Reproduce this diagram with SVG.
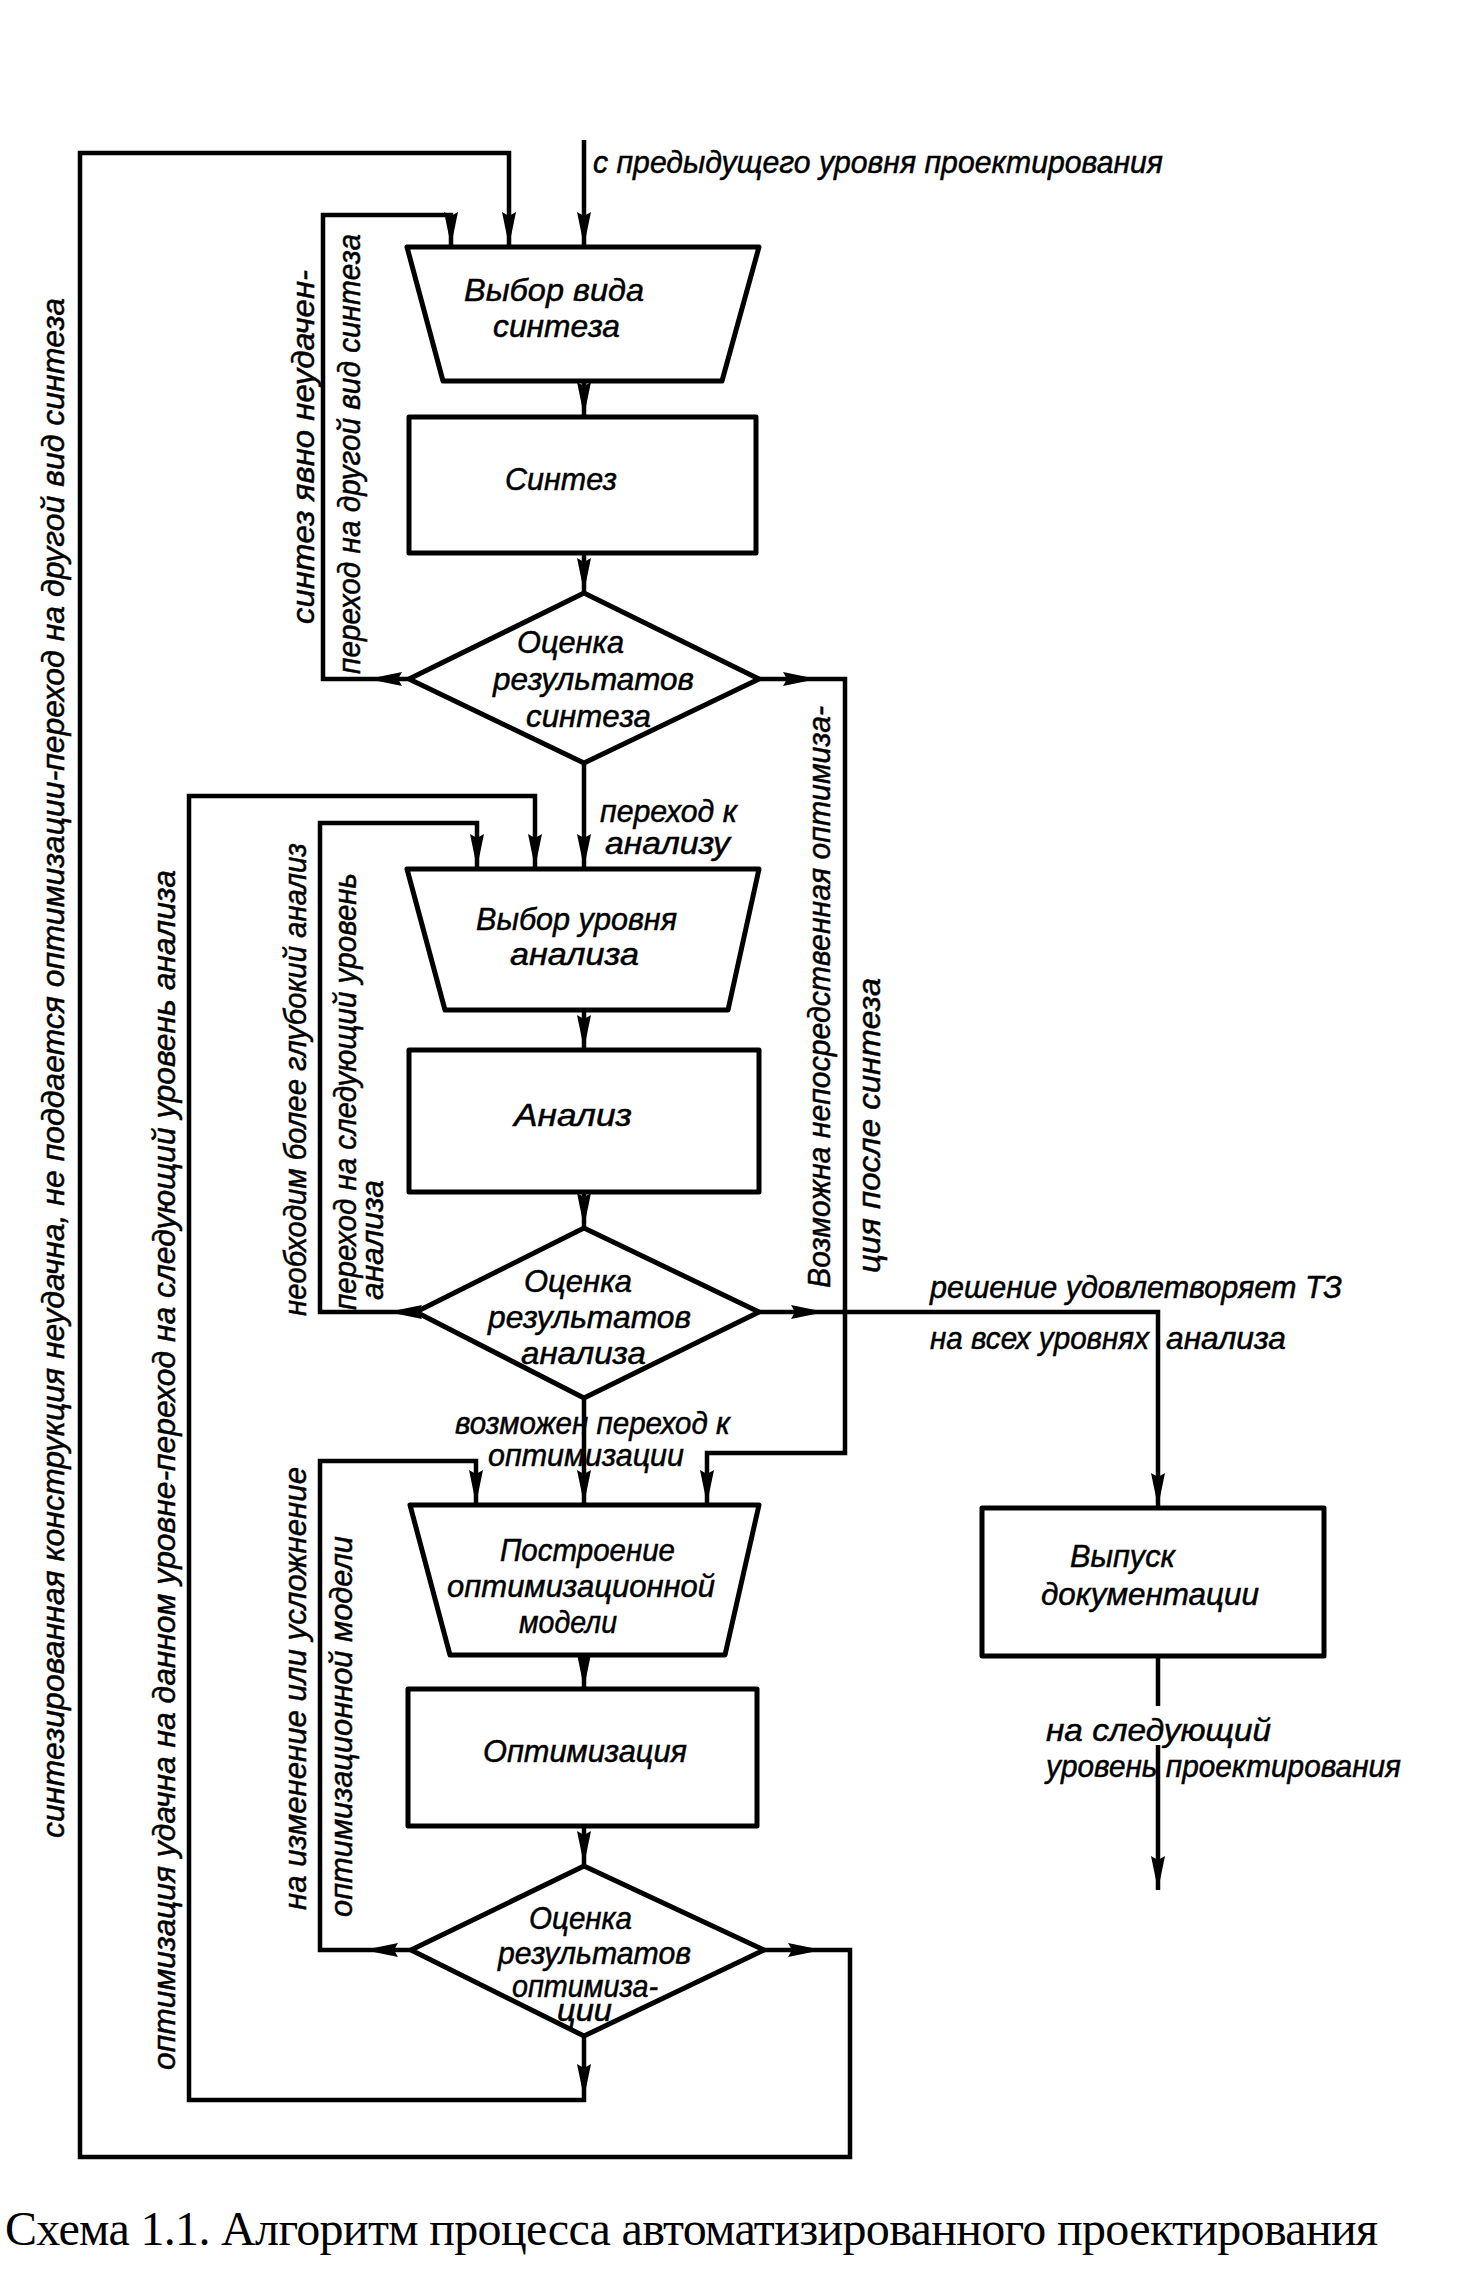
<svg xmlns="http://www.w3.org/2000/svg" xmlns:xlink="http://www.w3.org/1999/xlink" width="1468" height="2279" viewBox="0 0 1468 2279">
<style>
.sh{fill:none;stroke:#000;stroke-width:5;stroke-linejoin:round}
.cn{fill:none;stroke:#000;stroke-width:4.5;stroke-linejoin:miter}
.t{font-family:"Liberation Sans","DejaVu Sans",sans-serif;font-style:italic;font-size:32px;fill:#000;stroke:#000;stroke-width:0.5}
.cap{font-family:"Liberation Serif","DejaVu Serif",serif;font-size:48px;fill:#000}
</style>
<defs>
<path id="ah" d="M0,0 L-34,-7 L-30,0 L-34,7 z" fill="#000"/>
</defs>
<rect width="1468" height="2279" fill="#fff"/>

<g id="connectors">
<path class="cn" d="M584,140 V247"/>
<path class="cn" d="M584,381 V417"/>
<path class="cn" d="M584,553 V593"/>
<path class="cn" d="M584,763 V869"/>
<path class="cn" d="M584,1010 V1050"/>
<path class="cn" d="M584,1192 V1228"/>
<path class="cn" d="M584,1398 V1505"/>
<path class="cn" d="M584,1655 V1689"/>
<path class="cn" d="M584,1826 V1866"/>
<path class="cn" d="M764,1950 H850 V2157 H80 V153 H509 V247"/>
<path class="cn" d="M584,2036 V2100 H189 V796 H535 V869"/>
<path class="cn" d="M409,679 H323 V215 H451 V247"/>
<path class="cn" d="M416,1312 H320 V823 H477 V869"/>
<path class="cn" d="M411,1950 H320 V1461 H476 V1505"/>
<path class="cn" d="M759,679 H845 V1453 H707 V1505"/>
<path class="cn" d="M758,1312 H1158 V1508"/>
<path class="cn" d="M1158,1656 V1706 M1158,1745 V1890"/>
<use xlink:href="#ah" transform="translate(584,246) rotate(90)"/>
<use xlink:href="#ah" transform="translate(584,416) rotate(90)"/>
<use xlink:href="#ah" transform="translate(584,592) rotate(90)"/>
<use xlink:href="#ah" transform="translate(584,868) rotate(90)"/>
<use xlink:href="#ah" transform="translate(584,1049) rotate(90)"/>
<use xlink:href="#ah" transform="translate(584,1227) rotate(90)"/>
<use xlink:href="#ah" transform="translate(584,1504) rotate(90)"/>
<use xlink:href="#ah" transform="translate(584,1688) rotate(90)"/>
<use xlink:href="#ah" transform="translate(584,1865) rotate(90)"/>
<use xlink:href="#ah" transform="translate(822,1950)"/>
<use xlink:href="#ah" transform="translate(509,246) rotate(90)"/>
<use xlink:href="#ah" transform="translate(584,2098) rotate(90)"/>
<use xlink:href="#ah" transform="translate(535,868) rotate(90)"/>
<use xlink:href="#ah" transform="translate(368,679) rotate(180)"/>
<use xlink:href="#ah" transform="translate(451,246) rotate(90)"/>
<use xlink:href="#ah" transform="translate(388,1312) rotate(180)"/>
<use xlink:href="#ah" transform="translate(477,868) rotate(90)"/>
<use xlink:href="#ah" transform="translate(364,1950) rotate(180)"/>
<use xlink:href="#ah" transform="translate(476,1504) rotate(90)"/>
<use xlink:href="#ah" transform="translate(817,679)"/>
<use xlink:href="#ah" transform="translate(707,1504) rotate(90)"/>
<use xlink:href="#ah" transform="translate(825,1312)"/>
<use xlink:href="#ah" transform="translate(1158,1507) rotate(90)"/>
<use xlink:href="#ah" transform="translate(1158,1890) rotate(90)"/>
</g>

<g id="labels">
<text class="t" x="593" y="173" textLength="570" lengthAdjust="spacingAndGlyphs">с предыдущего уровня проектирования</text>
<text class="t" x="600" y="822" textLength="137" lengthAdjust="spacingAndGlyphs">переход к</text>
<text class="t" x="605" y="854" textLength="125" lengthAdjust="spacingAndGlyphs">анализу</text>
<text class="t" x="455" y="1434" textLength="275" lengthAdjust="spacingAndGlyphs">возможен переход к</text>
<text class="t" x="488" y="1466" textLength="196" lengthAdjust="spacingAndGlyphs">оптимизации</text>
<text class="t" x="930" y="1298" textLength="412" lengthAdjust="spacingAndGlyphs">решение удовлетворяет ТЗ</text>
<text class="t" x="930" y="1349" textLength="219" lengthAdjust="spacingAndGlyphs">на всех уровнях</text>
<text class="t" x="1166" y="1349" textLength="120" lengthAdjust="spacingAndGlyphs">анализа</text>
<text class="t" x="1046" y="1741" textLength="225" lengthAdjust="spacingAndGlyphs">на следующий</text>
<text class="t" x="1046" y="1777" textLength="355" lengthAdjust="spacingAndGlyphs">уровень проектирования</text>
<text class="t" transform="translate(64,1838) rotate(-90)" textLength="1540" lengthAdjust="spacingAndGlyphs">синтезированная конструкция неудачна, не поддается оптимизации-переход на другой вид синтеза</text>
<text class="t" transform="translate(175,2070) rotate(-90)" textLength="1200" lengthAdjust="spacingAndGlyphs">оптимизация удачна на данном уровне-переход на следующий уровень анализа</text>
<text class="t" transform="translate(314,624) rotate(-90)" textLength="354" lengthAdjust="spacingAndGlyphs">синтез явно неудачен-</text>
<text class="t" transform="translate(360,674) rotate(-90)" textLength="440" lengthAdjust="spacingAndGlyphs">переход на другой вид синтеза</text>
<text class="t" transform="translate(306,1316) rotate(-90)" textLength="473" lengthAdjust="spacingAndGlyphs">необходим более глубокий анализ</text>
<text class="t" transform="translate(356,1310) rotate(-90)" textLength="437" lengthAdjust="spacingAndGlyphs">переход на следующий уровень</text>
<text class="t" transform="translate(383,1300) rotate(-90)" textLength="120" lengthAdjust="spacingAndGlyphs">анализа</text>
<text class="t" transform="translate(306,1910) rotate(-90)" textLength="443" lengthAdjust="spacingAndGlyphs">на изменение или усложнение</text>
<text class="t" transform="translate(352,1917) rotate(-90)" textLength="381" lengthAdjust="spacingAndGlyphs">оптимизационной модели</text>
<text class="t" transform="translate(830,1288) rotate(-90)" textLength="582" lengthAdjust="spacingAndGlyphs">Возможна непосредственная оптимиза-</text>
<text class="t" transform="translate(880,1273) rotate(-90)" textLength="295" lengthAdjust="spacingAndGlyphs">ция после синтеза</text>
</g>

<g id="n1">
<path class="sh" d="M407,247 H759 L722,381 H443 Z"/>
<text class="t" x="464" y="301" textLength="180" lengthAdjust="spacingAndGlyphs">Выбор вида</text>
<text class="t" x="493" y="337" textLength="127" lengthAdjust="spacingAndGlyphs">синтеза</text>
</g>
<g id="n2">
<rect class="sh" x="409" y="417" width="347" height="136"/>
<text class="t" x="505" y="490" textLength="112" lengthAdjust="spacingAndGlyphs">Синтез</text>
</g>
<g id="n3">
<path class="sh" d="M584,593 L759,679 L584,763 L409,679 Z"/>
<text class="t" x="517" y="653" textLength="107" lengthAdjust="spacingAndGlyphs">Оценка</text>
<text class="t" x="493" y="690" textLength="201" lengthAdjust="spacingAndGlyphs">результатов</text>
<text class="t" x="526" y="727" textLength="125" lengthAdjust="spacingAndGlyphs">синтеза</text>
</g>
<g id="n4">
<path class="sh" d="M407,869 H759 L728,1010 H445 Z"/>
<text class="t" x="476" y="930" textLength="201" lengthAdjust="spacingAndGlyphs">Выбор уровня</text>
<text class="t" x="510" y="965" textLength="129" lengthAdjust="spacingAndGlyphs">анализа</text>
</g>
<g id="n5">
<rect class="sh" x="409" y="1050" width="350" height="142"/>
<text class="t" x="514" y="1126" textLength="118" lengthAdjust="spacingAndGlyphs">Анализ</text>
</g>
<g id="n6">
<path class="sh" d="M584,1228 L759,1312 L584,1398 L416,1312 Z"/>
<text class="t" x="524" y="1292" textLength="108" lengthAdjust="spacingAndGlyphs">Оценка</text>
<text class="t" x="488" y="1328" textLength="203" lengthAdjust="spacingAndGlyphs">результатов</text>
<text class="t" x="521" y="1364" textLength="125" lengthAdjust="spacingAndGlyphs">анализа</text>
</g>
<g id="n7">
<path class="sh" d="M410,1505 H759 L725,1655 H450 Z"/>
<text class="t" x="500" y="1561" textLength="175" lengthAdjust="spacingAndGlyphs">Построение</text>
<text class="t" x="447" y="1597" textLength="268" lengthAdjust="spacingAndGlyphs">оптимизационной</text>
<text class="t" x="519" y="1633" textLength="98" lengthAdjust="spacingAndGlyphs">модели</text>
</g>
<g id="n8">
<rect class="sh" x="408" y="1689" width="349" height="137"/>
<text class="t" x="483" y="1762" textLength="204" lengthAdjust="spacingAndGlyphs">Оптимизация</text>
</g>
<g id="n9">
<path class="sh" d="M584,1866 L764,1950 L584,2036 L411,1950 Z"/>
<text class="t" x="529" y="1929" textLength="103" lengthAdjust="spacingAndGlyphs">Оценка</text>
<text class="t" x="498" y="1964" textLength="193" lengthAdjust="spacingAndGlyphs">результатов</text>
<text class="t" x="512" y="1997" textLength="146" lengthAdjust="spacingAndGlyphs">оптимиза-</text>
<text class="t" x="557" y="2021" textLength="55" lengthAdjust="spacingAndGlyphs">ции</text>
</g>
<g id="n10">
<rect class="sh" x="982" y="1508" width="342" height="148"/>
<text class="t" x="1070" y="1567" textLength="105" lengthAdjust="spacingAndGlyphs">Выпуск</text>
<text class="t" x="1041" y="1605" textLength="218" lengthAdjust="spacingAndGlyphs">документации</text>
</g>

<g id="caption">
<text class="cap" x="5" y="2245" textLength="1373" lengthAdjust="spacing">Схема 1.1. Алгоритм процесса автоматизированного проектирования</text>
</g>
</svg>
